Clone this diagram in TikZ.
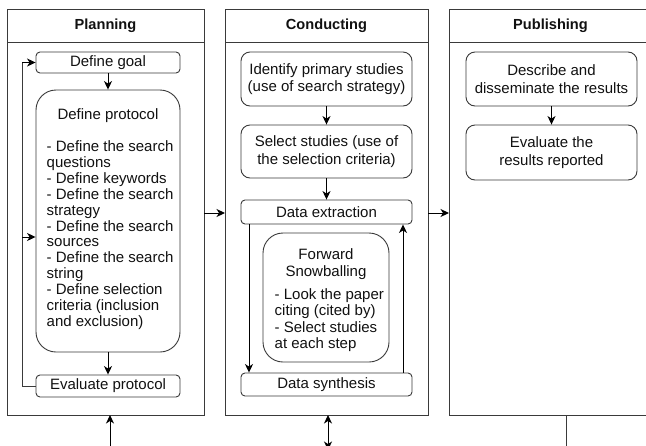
\documentclass[tikz,border=0pt]{standalone}
\usepackage{fontspec}
\setmainfont{Liberation Sans}
\usetikzlibrary{arrows.meta,positioning}
\definecolor{edge}{HTML}{3A3A3A}
\definecolor{ink}{HTML}{111111}
\tikzset{
  lane/.style={draw=edge,line width=0.9pt},
  lanetitle/.style={font=\fontsize{14.6}{17}\selectfont\bfseries,text=ink,anchor=center},
  bodyfont/.style={font=\fontsize{15}{17.5}\selectfont,text=ink},
  listfont/.style={font=\fontsize{15}{15.9}\selectfont,text=ink},
  stepbox/.style={bodyfont,draw=edge,line width=0.9pt,rounded corners=4pt,minimum width=144pt,
    align=center,inner sep=0pt},
  bigbox/.style={bodyfont,draw=edge,line width=0.9pt,rounded corners=9pt,minimum width=171pt,
    align=center,inner sep=0pt},
  listbox/.style={draw=edge,line width=0.9pt,rounded corners=20pt,inner sep=0pt},
  flow/.style={draw=black,line width=1pt,-{Stealth[length=8.5pt,width=8pt,inset=2.5pt]}},
  flowboth/.style={draw=black,line width=1pt,{Stealth[length=8.5pt,width=8pt,inset=2.5pt]}-{Stealth[length=8.5pt,width=8pt,inset=2.5pt]}},
  plain/.style={draw=edge,line width=1pt}
}
\begin{document}
\begin{tikzpicture}[x=1pt,y=-1pt]
\clip (0,0) rectangle (646,445);
\fill[white] (0,0) rectangle (646,445);

% swimlanes
\draw[lane] (7,9) rectangle (204,415);
\draw[lane] (7,42) -- (204,42);
\node[lanetitle] (tplan) at (105.5,25.5) {Planning};

\draw[lane] (225,9) rectangle (428,415);
\draw[lane] (225,42) -- (428,42);
\node[lanetitle] (tcond) at (326.5,25.5) {Conducting};

\draw[lane] (449,9) rectangle (652,415);
\draw[lane] (449,42) -- (652,42);
\node[lanetitle] (tpub) at (550.5,25.5) {Publishing};

% lane anchors for the connectors
\coordinate (planR) at (204,213);
\coordinate (condL) at (225,213);
\coordinate (condR) at (428,213);
\coordinate (pubL) at (449,213);
\coordinate (planB) at (110,415);
\coordinate (planOut) at (110,450);
\coordinate (condB) at (328,415);
\coordinate (condOut) at (328,450);
\coordinate (pubB) at (566,415);
\coordinate (pubOut) at (566,450);

% Planning
\node[stepbox,minimum height=21pt] (goal) at (108,62.5) {Define goal};
\node[listbox,minimum width=144pt,minimum height=262pt] (proto) at (108,221) {};
\node[bodyfont,anchor=north,inner sep=0pt] (ptitle) at (108,108.5) {Define protocol};
\node[listfont,align=left,anchor=north west,inner sep=0pt] (plist) at (46.5,140.5)
  {- Define the search\\questions\\- Define keywords\\- Define the search\\strategy\\- Define the search\\sources\\- Define the search\\string\\- Define selection\\criteria (inclusion\\and exclusion)};
\node[stepbox,minimum height=22pt] (evalp) at (108,386) {Evaluate protocol};

\draw[flow] (goal) -- (proto);
\draw[flow] (proto) -- (evalp);
\draw[plain] (evalp.west) -| (22,62.5);
\draw[flow] (22,62.5) -- (goal.west);
\draw[flow] (22,237) -- (proto.west |- 0,237);

% Conducting
\node[bigbox,minimum height=54pt] (ident) at (326.5,79) {Identify primary studies\\(use of search strategy)};
\node[bigbox,minimum height=53pt] (select) at (326.5,151.5) {Select studies (use of\\the selection criteria)};
\node[stepbox,minimum width=171pt,minimum height=24pt] (extract) at (326.5,212) {Data extraction};
\node[listbox,minimum width=126pt,minimum height=129pt] (fwd) at (326,297.5) {};
\node[bodyfont,align=center,anchor=north,inner sep=0pt] (ftitle) at (326,248)
  {Forward\\Snowballing};
\node[font=\fontsize{15}{16.6}\selectfont,text=ink,align=left,anchor=north west,inner sep=0pt] (flist) at (274.5,288)
  {- Look the paper\\citing (cited by)\\- Select studies\\at each step};
\node[stepbox,minimum width=171pt,minimum height=23pt] (synth) at (326.5,384.5) {Data synthesis};

\draw[flow] (ident) -- (select);
\draw[flow] (select) -- (extract);
\draw[flow] (extract.south -| 249,0) -- (synth.north -| 249,0);
\draw[flow] (synth.north -| 403,0) -- (extract.south -| 403,0);

% Publishing
\node[bigbox,minimum height=54pt] (desc) at (551.5,79) {Describe and\\disseminate the results};
\node[bigbox,minimum height=55pt] (evalr) at (551.5,152.5) {Evaluate the\\results reported};
\draw[flow] (desc) -- (evalr);

% links between lanes
\draw[flow] (planR) -- (condL);
\draw[flow] (condR) -- (pubL);
\draw[flow] (planOut) -- (planB);
\draw[flowboth] (condB) -- (condOut);
\draw[plain] (pubB) -- (pubOut);
\end{tikzpicture}
\end{document}
